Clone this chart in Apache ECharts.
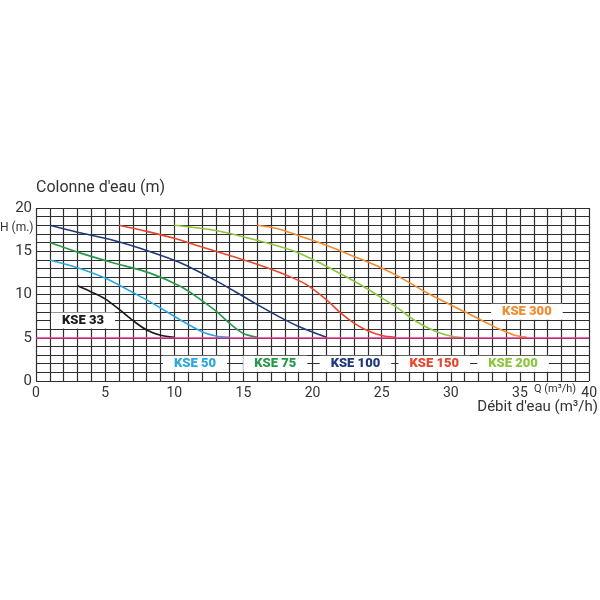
<!DOCTYPE html>
<html><head><meta charset="utf-8">
<script src="https://cdn.jsdelivr.net/npm/echarts@6/dist/echarts.min.js"></script>
<style>html,body{margin:0;padding:0;background:#fff}#c{width:600px;height:600px}</style>
</head><body><div id="c"></div>
<script>
const names = ['KSE 33','KSE 50','KSE 75','KSE 100','KSE 150','KSE 200','KSE 300'];
const colors = ['#1a1a1a','#2aa8e0','#27994a','#1e3a7b','#e8462e','#8cc63f','#f58b2f'];
const kse33 = [[3,11],[4,10.3],[5,9.5],[6,8.3],[7,7.0],[8,5.9],[9,5.3],[10,5.05]];
const kse50 = [[1,14],[3,13.1],[5,11.9],[6.8,10.4],[8.2,9.2],[10.5,7.0],[12,5.7],[13,5.2],[14,5.05]];
const kse75 = [[1,16],[3,14.9],[5.5,13.7],[8.2,12.5],[10.5,10.9],[12,9.3],[13,8.1],[14.2,6.4],[15,5.5],[16,5.05]];
const kse100 = [[1,18],[3,17.2],[5.5,16.3],[8,15.1],[10.4,13.7],[13,11.6],[15.4,9.4],[17.5,7.5],[19,6.3],[21,5.05]];
const kse150 = [[6,18],[8,17.3],[10,16.5],[12,15.5],[14,14.5],[16,13.5],[18,12.3],[19.5,11.2],[21,9.4],[22,7.9],[23,6.7],[24,5.8],[25,5.25],[26,5.05]];
const kse200 = [[10,18],[13,17.4],[15.4,16.5],[17.5,15.6],[19,14.8],[21.2,13.1],[23.5,11.1],[25.2,9.4],[26.2,8.4],[27.2,7.2],[28.4,6.1],[29.8,5.25],[31,5.0]];
const kse300 = [[16,18],[17.5,17.6],[19,16.8],[21,15.7],[23,14.4],[24.8,13.2],[26.2,12.1],[28.5,10.0],[31,8.0],[32.5,6.8],[33.5,6.0],[34.6,5.3],[35.5,5.05]];
const curves = [kse33,kse50,kse75,kse100,kse150,kse200,kse300];
const labelAnchors = [[3.4,7],[11.5,2],[17.3,2],[23.1,2],[28.8,2],[34.5,2],[35.5,8]];
const minHead = 5;

const chart = echarts.init(document.getElementById('c'));
const series = curves.map((d,i)=>({
  type:'line', name:names[i], data:d, smooth:0.3, symbol:'none',
  lineStyle:{color:colors[i], width:1.6}, z:3
}));
series.push({
  type:'line', data:[], symbol:'none',
  markLine:{silent:true, symbol:'none', label:{show:false},
    lineStyle:{color:'#e4328c', width:1.5, type:'solid'}, data:[{yAxis:minHead}]}, z:2
});
series.push({
  type:'scatter', symbolSize:1, z:10, itemStyle:{opacity:0},
  data: labelAnchors.map((p,i)=>({value:p, label:{color:colors[i]}})),
  label:{show:true, position:'inside', formatter:(p)=>names[p.dataIndex],
    fontFamily:'Roboto', fontWeight:900, fontSize:13, opacity:1,
    backgroundColor:'#fff', padding:[2,11,1,11]}
});
chart.setOption({
  animation:false,
  grid:{left:36, right:8, top:208, bottom:219, show:false},
  xAxis:{type:'value', min:0, max:40, interval:5,
    axisLine:{show:false}, axisTick:{show:false},
    axisLabel:{color:'#333', fontSize:14, fontFamily:'Roboto', margin:5,
      formatter:v=>String(v)},
    splitLine:{show:true, lineStyle:{color:'#2e2e2e', width:1.2}},
    minorTick:{show:false, splitNumber:5},
    minorSplitLine:{show:true, lineStyle:{color:'#2e2e2e', width:1.2}}},
  yAxis:{type:'value', min:0, max:20, interval:5,
    axisLine:{show:false}, axisTick:{show:false},
    axisLabel:{color:'#333', fontSize:15, fontFamily:'Roboto', margin:4},
    splitLine:{show:true, lineStyle:{color:'#2e2e2e', width:1.2}},
    minorTick:{show:false, splitNumber:5},
    minorSplitLine:{show:true, lineStyle:{color:'#2e2e2e', width:1.2}}},
  graphic:[
    {type:'text', left:36, top:180, style:{text:"Colonne d'eau (m)", font:'16px Roboto', fill:'#333'}},
    {type:'text', right:2, top:400, style:{text:"Débit d'eau (m³/h)", font:'15px Roboto', fill:'#333'}},
    {type:'text', left:0, top:222, style:{text:"H (m.)", font:'12px Roboto', fill:'#333'}},
    {type:'text', left:534, top:384, style:{text:"Q (m³/h)", font:'11px Roboto', fill:'#333'}}
  ],
  series:series
});
</script></body></html>
